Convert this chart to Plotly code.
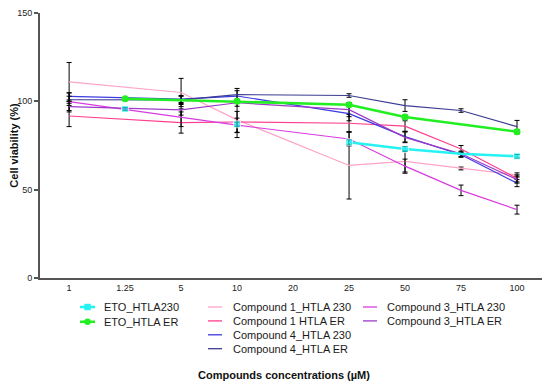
import plotly.graph_objects as go

# ---------------- data ----------------
concentrations = ["1", "1.25", "5", "10", "20", "25", "50", "75", "100"]

eto_230 = [None, 95.7, None, 87.0, None, 76.8, 73.0, 70.3, 68.9]
eto_230_err = [0, 0.8, 0, 1.2, 0, 1.5, 1.5, 0, 1.0]
eto_er = [None, 101.5, None, 100.0, None, 98.1, 91.1, None, 82.8]
eto_er_err = [0, 0.6, 0, 1.0, 0, 1.0, 1.2, 0, 1.2]

c1_230 = [111.0, None, 105.0, 89.5, None, 63.7, 66.0, 62.0, 58.3]
c1_230_err = [11, 0, 8, 10, 0, 19, 6, 0.8, 1.2]
c1_er = [91.7, None, 88.0, 88.3, None, 87.6, 86.0, 73.0, 56.4]
c1_er_err = [6, 0, 6, 6, 0, 5, 3, 2, 2]

c4_230 = [102.8, None, 101.3, 103.0, None, 93.0, 80.0, 69.8, 53.7]
c4_230_err = [2, 0, 2, 3, 0, 4, 3, 1.5, 2]
c4_er = [100.9, None, 100.8, 103.8, None, 103.3, 97.6, 94.8, 85.7]
c4_er_err = [2, 0, 2, 3.5, 0, 1, 3.3, 1, 3.5]

c3_230 = [99.8, None, 90.7, 86.5, None, 78.7, 63.3, 49.6, 38.7]
c3_230_err = [5, 0, 5, 4, 0, 4, 4, 3, 2.5]
c3_er = [97.0, None, 95.2, 99.2, None, 95.3, 79.6, 70.3, 55.7]
c3_er_err = [3, 0, 3, 2, 0, 4, 3, 1.5, 2]

# ---------------- styling ----------------
FONT = "Liberation Sans, Arial, sans-serif"
BODY = 8  # default page margin around the figure
W, H = 542, 380
ML, MR, MT, MB = 32, 5, 5, 110
PW, PH = W - ML - MR, H - MT - MB

series = [
    dict(name="Compound 1_HTLA 230", y=c1_230, e=c1_230_err, color="#ffa3c8", width=1.2),
    dict(name="Compound 1 HTLA ER", y=c1_er, e=c1_er_err, color="#ff3d8e", width=1.2),
    dict(name="Compound 4_HTLA 230", y=c4_230, e=c4_230_err, color="#3a3adf", width=1.2),
    dict(name="Compound 4_HTLA ER", y=c4_er, e=c4_er_err, color="#3c3c94", width=1.2),
    dict(name="Compound 3_HTLA 230", y=c3_230, e=c3_230_err, color="#d83be0", width=1.2),
    dict(name="Compound 3_HTLA ER", y=c3_er, e=c3_er_err, color="#9c3ac8", width=1.2),
]

fig = go.Figure()

for s in series:
    fig.add_trace(go.Scatter(
        x=concentrations, y=s["y"], name=s["name"], mode="lines",
        connectgaps=True, showlegend=False,
        line=dict(color=s["color"], width=s["width"]),
        error_y=dict(type="data", array=s["e"], color="black", thickness=1, width=2.5),
    ))

eto_marker_sizes = [7, 7, 7, 7, 7, 7, 7, 0, 7]
fig.add_trace(go.Scatter(
    x=concentrations, y=eto_230, name="ETO_HTLA230", mode="lines+markers",
    connectgaps=False, showlegend=False,
    line=dict(color="#27f2f2", width=2.6),
    marker=dict(symbol="square", size=eto_marker_sizes, color="#27f2f2"),
    error_y=dict(type="data", array=eto_230_err, color="black", thickness=1, width=2.5),
))
fig.add_trace(go.Scatter(
    x=concentrations, y=eto_er, name="ETO_HTLA ER", mode="lines+markers",
    connectgaps=True, showlegend=False,
    line=dict(color="#22ee22", width=2.6),
    marker=dict(symbol="circle", size=7, color="#22ee22"),
    error_y=dict(type="data", array=eto_er_err, color="black", thickness=1, width=2.5),
))

# ---------------- manual legend (3 columns) ----------------
def px(xp):
    return (xp - BODY - ML) / PW

def py(yp):
    return (BODY + MT + PH - yp) / PH

legend_cols = [
    dict(x0=80, x1=95, tx=102, items=[("ETO_HTLA230", "#27f2f2", "square"),
                                      ("ETO_HTLA ER", "#22ee22", "circle")]),
    dict(x0=208, x1=222, tx=231, items=[("Compound 1_HTLA 230", "#ffa3c8", None),
                                        ("Compound 1 HTLA ER", "#ff3d8e", None),
                                        ("Compound 4_HTLA 230", "#3a3adf", None),
                                        ("Compound 4_HTLA ER", "#3c3c94", None)]),
    dict(x0=363, x1=377, tx=385, items=[("Compound 3_HTLA 230", "#d83be0", None),
                                        ("Compound 3_HTLA ER", "#9c3ac8", None)]),
]
row0, rowstep = 307, 13.9
shapes, annotations = [], []
for col in legend_cols:
    for i, (label, color, sym) in enumerate(col["items"]):
        yy = row0 + i * (14.8 if sym else rowstep)
        lw = 2.6 if sym else 1.3
        shapes.append(dict(type="line", xref="paper", yref="paper",
                           x0=px(col["x0"]), x1=px(col["x1"]), y0=py(yy), y1=py(yy),
                           line=dict(color=color, width=lw)))
        if sym:
            cx, r = (col["x0"] + col["x1"]) / 2, 3.2
            shapes.append(dict(type="rect" if sym == "square" else "circle",
                               xref="paper", yref="paper",
                               x0=px(cx - r), x1=px(cx + r), y0=py(yy + r), y1=py(yy - r),
                               fillcolor=color, line=dict(width=0)))
        annotations.append(dict(text=label, xref="paper", yref="paper",
                                x=px(col["tx"]), y=py(yy), xanchor="left", yanchor="middle",
                                showarrow=False, font=dict(family=FONT, size=11, color="#1a1a1a")))

annotations.append(dict(text="Compounds concentrations (µM)", xref="paper", yref="paper",
                        x=px(284), y=py(375), xanchor="center", yanchor="middle",
                        showarrow=False,
                        font=dict(family=FONT, size=11, color="#111", weight="bold")))

fig.update_layout(
    width=W, height=H,
    margin=dict(l=ML, r=MR, t=MT, b=MB, autoexpand=False),
    paper_bgcolor="white", plot_bgcolor="white",
    font=dict(family=FONT, color="#222"),
    showlegend=False,
    shapes=shapes, annotations=annotations,
    xaxis=dict(type="category", categoryorder="array", categoryarray=concentrations,
               range=[-0.52, 8.5], showline=True, linecolor="#555", linewidth=2,
               ticks="", showgrid=False, zeroline=False, automargin=False,
               tickfont=dict(family=FONT, size=9, color="#222")),
    yaxis=dict(range=[0, 150], tickvals=[0, 50, 100, 150], showline=True,
               linecolor="#555", linewidth=2, ticks="outside", ticklen=4,
               tickcolor="#555", tickwidth=1.5, showgrid=False, zeroline=False,
               automargin=False, ticklabeloverflow="allow",
               tickfont=dict(family=FONT, size=9, color="#222"),
               title=dict(text="Cell viability (%)", standoff=4,
                          font=dict(family=FONT, size=11, color="#111", weight="bold"))),
)

fig.write_html("out.html")
